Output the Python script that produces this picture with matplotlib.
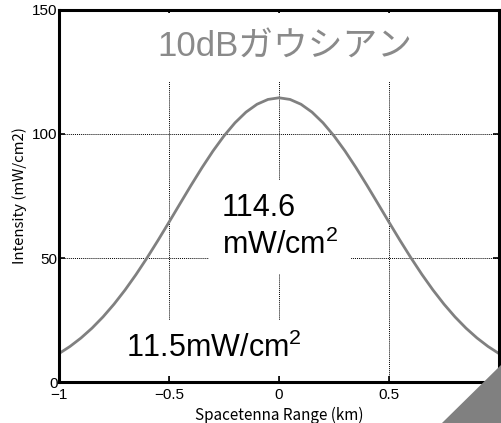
import matplotlib
matplotlib.use("Agg")
import matplotlib.pyplot as plt
from matplotlib.patches import Polygon

# Data (Intensity vs range)
x_km = [-1.0, -0.95, -0.9, -0.85, -0.8, -0.75, -0.7, -0.65, -0.6, -0.55, -0.5,
        -0.45, -0.4, -0.35, -0.3, -0.25, -0.2, -0.15, -0.1, -0.05, 0.0,
        0.05, 0.1, 0.15, 0.2, 0.25, 0.3, 0.35, 0.4, 0.45, 0.5,
        0.55, 0.6, 0.65, 0.7, 0.75, 0.8, 0.85, 0.9, 0.95, 1.0]
half = [114.6, 113.94, 111.99, 108.82, 104.52, 99.24, 93.15, 86.43, 79.28, 71.89,
        64.44, 57.11, 50.03, 43.32, 37.08, 31.38, 26.25, 21.71, 17.75, 14.34, 11.46]
intensity = half[::-1] + half[1:]

xticks = [-1, -0.5, 0, 0.5, 1]
xticklabels = ["\u22121", "\u22120.5", "0", "0.5", "1"]
yticks = [0, 50, 100, 150]
yticklabels = ["0", "50", "100", "150"]

plt.rcParams['font.family'] = ['Liberation Sans', 'Noto Sans CJK JP', 'DejaVu Sans']
plt.rcParams['mathtext.fontset'] = 'custom'
plt.rcParams['mathtext.rm'] = 'Liberation Sans'
plt.rcParams['mathtext.it'] = 'Liberation Sans'
plt.rcParams['mathtext.bf'] = 'Liberation Sans:bold'

fig = plt.figure(figsize=(5.01, 4.23), dpi=100)
ax = fig.add_axes([59/501, 41/423, 440/501, 372/423])
ax.plot(x_km, intensity, color='#808080', lw=2.0, solid_capstyle='round', zorder=5)
ax.set_xlim(-1, 1)
ax.set_ylim(0, 150)
ax.set_xticks(xticks)
ax.set_xticklabels(xticklabels, fontsize=11)
ax.set_yticks(yticks)
ax.set_yticklabels(yticklabels, fontsize=11)
ax.tick_params(direction='in', length=4, width=1.2, top=True, right=True)
ax.tick_params(axis='x', pad=4)
ax.tick_params(axis='y', pad=1)
for s in ax.spines.values():
    s.set_linewidth(2.2)
    s.set_zorder(6)
ax.grid(True, linestyle=(0, (1, 1)), color='black', linewidth=0.7)
ax.set_xlabel("Spacetenna Range (km)", fontsize=11,
              family=['Noto Sans CJK JP', 'DejaVu Sans'], labelpad=4)
ax.set_ylabel("Intensity (mW/cm2)", fontsize=10.8,
              family=['Noto Sans CJK JP', 'DejaVu Sans'], labelpad=4)

box = dict(facecolor='white', edgecolor='none')
ax.text(0.027, 135.0, "10dBガウシアン", color='#8a8a8a', fontsize=25,
        family=['Liberation Sans', 'Noto Sans CJK JP'], ha='center', va='center',
        bbox=dict(box, pad=13), zorder=3)
ax.text(-0.259, 62.5, "114.6\nmW/cm$^2$", color='black', fontsize=22,
        ha='left', va='center', linespacing=1.28,
        bbox=dict(box, pad=9), zorder=3)
ax.text(-0.695, 13.6, "11.5mW/cm$^2$", color='black', fontsize=22,
        ha='left', va='center', bbox=dict(box, pad=9), zorder=3)

tri = Polygon([[501, 423 - 365], [501, 0], [442, 0]], closed=True,
              transform=None, facecolor='#808080', edgecolor='none', zorder=10)
fig.patches.append(tri)

fig.savefig("out.png", dpi=100)
